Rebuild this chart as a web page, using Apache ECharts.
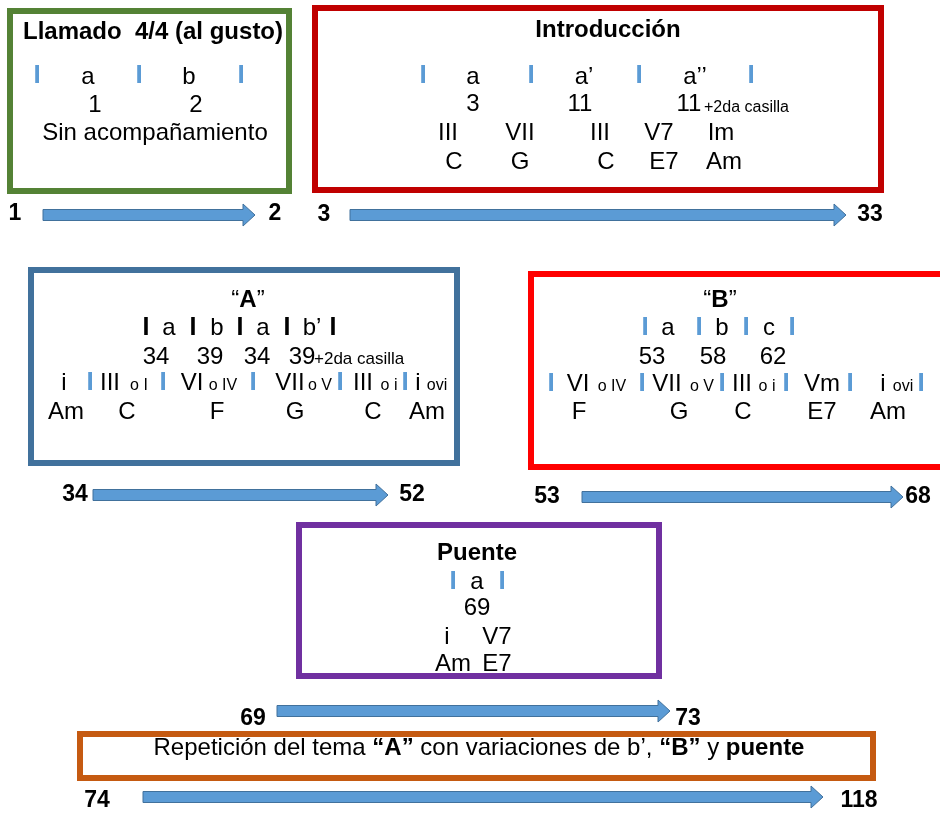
<!DOCTYPE html>
<html>
<head>
<meta charset="utf-8">
<script src="https://cdn.jsdelivr.net/npm/echarts@6/dist/echarts.min.js"></script>
<style>html,body{margin:0;padding:0;background:#fff}#c{width:940px;height:816px}</style>
</head>
<body>
<div id="c"></div>
<script>
// ---------- DATA (content only) ----------
const sectionTitles = ['Llamado  4/4 (al gusto)', 'Introducción', 'A', 'B', 'Puente'];
const measureStart = ['1', '3', '34', '53', '69', '74'];
const measureEnd = ['2', '33', '52', '68', '73', '118'];

const llamadoPhrases = ['a', 'b'];
const llamadoMeasures = ['1', '2'];
const llamadoNote = 'Sin acompañamiento';

const introPhrases = ['a', 'a’', 'a’’'];
const introMeasures = ['3', '11', '11'];
const introDegrees = ['III', 'VII', 'III', 'V7', 'Im'];
const introChords = ['C', 'G', 'C', 'E7', 'Am'];

const aPhrases = ['a', 'b', 'a', 'b’'];
const aMeasures = ['34', '39', '34', '39'];
const aDegrees = ['i', 'III', 'VI', 'VII', 'III', 'i'];
const aDegreeAlt = ['', 'o I', 'o IV', 'o V', 'o i', 'ovi'];
const aChords = ['Am', 'C', 'F', 'G', 'C', 'Am'];

const bPhrases = ['a', 'b', 'c'];
const bMeasures = ['53', '58', '62'];
const bDegrees = ['VI', 'VII', 'III', 'Vm', 'i'];
const bDegreeAlt = ['o IV', 'o V', 'o i', '', 'ovi'];
const bChords = ['F', 'G', 'C', 'E7', 'Am'];

const puentePhrases = ['a'];
const puenteMeasures = ['69'];
const puenteDegrees = ['i', 'V7'];
const puenteChords = ['Am', 'E7'];

const casilla = '+2da casilla';
const repeticionParts = [['Repetición del tema ', 0], ['“A”', 1], [' con variaciones de b’, ', 0], ['“B”', 1], [' y ', 0], ['puente', 1]];

// ---------- LAYOUT (positions / styles) ----------
const FONT = '"Liberation Sans", Arial, Helvetica, sans-serif';
const BLUE = '#5b9bd5';
const MAIN = 24;
const boxLayout = [
  [10, 11, 289, 191, '#548235'],
  [315, 8, 881, 190, '#c00000'],
  [31, 270, 457, 463, '#41719c'],
  [531, 274, 962, 467, '#ff0000'],
  [299, 525, 659, 676, '#7030a0'],
  [80, 734, 873, 778, '#c55a11']
];
const arrowLayout = [
  [43, 255, 215], [350, 846, 215], [93, 388, 495], [582, 903, 497], [277, 670, 711], [143, 823, 797]
];
const arrowLabelLayout = [
  [15, 275, 214], [324, 870, 215], [75, 412, 495], [547, 918, 497], [253, 688, 719], [97, 859, 801]
];

const texts = [];
function T(text, x, y, o) {
  o = o || {};
  texts.push({ text, x, y, size: o.size || MAIN, weight: o.weight || 'normal', color: o.color || '#000', align: o.align || 'center', rich: o.rich });
}
function bar(x, y) { T('I', x, y, { color: BLUE, weight: 'bold', size: 26 }); }
function blackBar(x, y) { T('I', x, y, { weight: 'bold', size: 25 }); }

// Box 1
T(sectionTitles[0], 153, 32, { weight: 'bold' });
[37, 139, 241].forEach(x => bar(x, 76));
[88, 189].forEach((x, i) => T(llamadoPhrases[i], x, 77));
[95, 196].forEach((x, i) => T(llamadoMeasures[i], x, 105));
T(llamadoNote, 155, 133);

// Box 2
T(sectionTitles[1], 608, 30, { weight: 'bold' });
[423, 531, 639, 751].forEach(x => bar(x, 76));
[473, 584, 695].forEach((x, i) => T(introPhrases[i], x, 77));
[473, 580, 689].forEach((x, i) => T(introMeasures[i], x, 104));
T(casilla, 704, 108, { size: 16, align: 'left' });
[448, 520, 600, 659, 721].forEach((x, i) => T(introDegrees[i], x, 133));
[454, 520, 606, 664, 724].forEach((x, i) => T(introChords[i], x, 162));

// Box 3
const quoteRich = {
  q: { fontSize: MAIN, fontWeight: 'normal', fontFamily: FONT, fill: '#000' },
  b: { fontSize: MAIN, fontWeight: 'bold', fontFamily: FONT, fill: '#000' }
};
T('{q|“}{b|' + sectionTitles[2] + '}{q|”}', 248, 300, { rich: quoteRich });
[146, 193, 240, 287, 333].forEach(x => blackBar(x, 328));
[169, 217, 263, 312].forEach((x, i) => T(aPhrases[i], x, 328));
[156, 210, 257, 302].forEach((x, i) => T(aMeasures[i], x, 357));
T(casilla, 314, 359, { size: 17, align: 'left' });
[90, 163, 253, 340, 405].forEach(x => bar(x, 383));
[64, 110, 192, 290, 363, 418].forEach((x, i) => T(aDegrees[i], x, 383));
[0, 139, 223, 320, 389, 437].forEach((x, i) => { if (aDegreeAlt[i]) T(aDegreeAlt[i], x, 386, { size: 16 }); });
[66, 127, 217, 295, 373, 427].forEach((x, i) => T(aChords[i], x, 412));

// Box 4
T('{q|“}{b|' + sectionTitles[3] + '}{q|”}', 720, 300, { rich: quoteRich });
[645, 699, 746, 792].forEach(x => bar(x, 328));
[668, 722, 769].forEach((x, i) => T(bPhrases[i], x, 328));
[652, 713, 773].forEach((x, i) => T(bMeasures[i], x, 357));
[551, 642, 722, 786, 850, 921].forEach(x => bar(x, 384));
[578, 667, 742, 822, 883].forEach((x, i) => T(bDegrees[i], x, 384));
[612, 702, 767, 0, 903].forEach((x, i) => { if (bDegreeAlt[i]) T(bDegreeAlt[i], x, 387, { size: 16 }); });
[579, 679, 743, 822, 888].forEach((x, i) => T(bChords[i], x, 412));

// Box 5
T(sectionTitles[4], 477, 553, { weight: 'bold' });
[453, 502].forEach(x => bar(x, 582));
T(puentePhrases[0], 477, 582);
T(puenteMeasures[0], 477, 608);
[447, 497].forEach((x, i) => T(puenteDegrees[i], x, 637));
[453, 497].forEach((x, i) => T(puenteChords[i], x, 664));

// Box 6
const repRich = {
  n: { fontSize: MAIN, fontWeight: 'normal', fontFamily: FONT, fill: '#000' },
  b: { fontSize: MAIN, fontWeight: 'bold', fontFamily: FONT, fill: '#000' }
};
T(repeticionParts.map(p => '{' + (p[1] ? 'b' : 'n') + '|' + p[0] + '}').join(''), 479, 748, { rich: repRich });

// Arrow labels
arrowLabelLayout.forEach((l, i) => {
  T(measureStart[i], l[0], l[2], { weight: 'bold', size: 23 });
  T(measureEnd[i], l[1], l[2], { weight: 'bold', size: 23 });
});

// ---------- CHART ----------
const chart = echarts.init(document.getElementById('c'), null, { renderer: 'canvas' });
chart.setOption({
  animation: false,
  backgroundColor: '#fff',
  grid: { left: 0, right: 0, top: 0, bottom: 0 },
  xAxis: { type: 'value', min: 0, max: 940, show: false },
  yAxis: { type: 'value', min: 0, max: 816, inverse: true, show: false },
  series: [
    {
      type: 'custom', z: 1, silent: true,
      data: arrowLayout.map(a => [a[0], a[2], a[1]]),
      renderItem(params, api) {
        const p1 = api.coord([api.value(0), api.value(1)]);
        const p2 = api.coord([api.value(2), api.value(1)]);
        const x1 = p1[0], x2 = p2[0], y = p1[1];
        const bh = 5.5, hh = 11, hl = 12;
        return {
          type: 'polygon',
          shape: { points: [[x1, y - bh], [x2 - hl, y - bh], [x2 - hl, y - hh], [x2, y], [x2 - hl, y + hh], [x2 - hl, y + bh], [x1, y + bh]] },
          style: { fill: BLUE, stroke: '#41719c', lineWidth: 1 }
        };
      }
    },
    {
      type: 'custom', z: 2, silent: true,
      data: texts.map(t => [t.x, t.y]),
      renderItem(params, api) {
        const t = texts[params.dataIndex];
        const p = api.coord([api.value(0), api.value(1)]);
        return {
          type: 'text', x: p[0], y: p[1],
          style: {
            text: t.text, fill: t.color, fontSize: t.size, fontWeight: t.weight, fontFamily: FONT,
            align: t.align, verticalAlign: 'middle', textAlign: t.align, textVerticalAlign: 'middle',
            rich: t.rich
          }
        };
      }
    },
    {
      type: 'custom', z: 3, silent: true,
      data: boxLayout.map(b => [b[0], b[1], b[2], b[3]]),
      renderItem(params, api) {
        const b = boxLayout[params.dataIndex];
        const p1 = api.coord([api.value(0), api.value(1)]);
        const p2 = api.coord([api.value(2), api.value(3)]);
        return {
          type: 'rect',
          shape: { x: p1[0], y: p1[1], width: p2[0] - p1[0], height: p2[1] - p1[1] },
          style: { fill: null, stroke: b[4], lineWidth: 6 }
        };
      }
    }
  ]
});
</script>
</body>
</html>
